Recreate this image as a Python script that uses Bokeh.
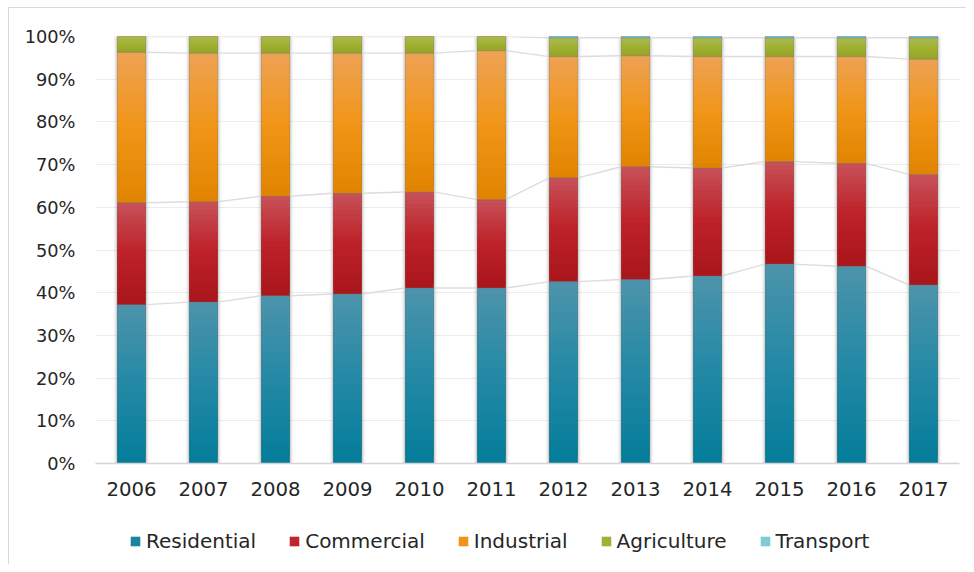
import numpy as np
from bokeh.plotting import figure
from bokeh.layouts import column
from bokeh.models import (ColumnDataSource, FixedTicker, Range1d, Legend, LegendItem)
from bokeh.embed import file_html
from bokeh.resources import INLINE

years = ["2006", "2007", "2008", "2009", "2010", "2011",
         "2012", "2013", "2014", "2015", "2016", "2017"]
residential = [37.2, 37.8, 39.3, 39.7, 41.1, 41.1, 42.6, 43.1, 43.9, 46.7, 46.2, 41.8]
commercial = [23.85, 23.5, 23.3, 23.6, 22.5, 20.7, 24.3, 26.4, 25.3, 24.0, 24.1, 25.9]
industrial = [35.25, 34.8, 33.5, 32.8, 32.5, 34.9, 28.4, 26.0, 26.1, 24.6, 25.0, 27.0]
agriculture = [3.7, 3.9, 3.9, 3.9, 3.9, 3.3, 4.4, 4.2, 4.4, 4.4, 4.4, 5.0]
transport = [0.0, 0.0, 0.0, 0.0, 0.0, 0.0, 0.3, 0.3, 0.3, 0.3, 0.3, 0.3]

series_names = ["Residential", "Commercial", "Industrial", "Agriculture", "Transport"]
series_values = [residential, commercial, industrial, agriculture, transport]
# gradient stops: top, middle, bottom
gradients = [
    ("#4d93ab", "#2389a5", "#037c9a"),
    ("#c75159", "#bd2127", "#a8161c"),
    ("#eda255", "#f19518", "#e08400"),
    ("#abb955", "#a0b132", "#94a427"),
    ("#8fd0d6", "#6fc0c8", "#5ab3bd"),
]
legend_colors = ["#1a85a2", "#c0272d", "#f0921c", "#a0b236", "#7ecbd2"]
y_ticks = [0, 10, 20, 30, 40, 50, 60, 70, 80, 90, 100]

BAR_W = 0.40
N_SLICES = 24


def hex2rgb(h):
    h = h.lstrip("#")
    return np.array([int(h[i:i + 2], 16) for i in (0, 2, 4)], dtype=float)


def grad_color(stops, t):
    # t=1 -> top, t=0 -> bottom
    top, mid, bot = (hex2rgb(s) for s in stops)
    if t >= 0.5:
        f = (t - 0.5) / 0.5
        c = mid + (top - mid) * f
    else:
        f = t / 0.5
        c = bot + (mid - bot) * f
    return "#%02x%02x%02x" % tuple(int(round(v)) for v in c)


xs = list(range(len(years)))

p = figure(width=957, height=500, output_backend="svg", toolbar_location=None,
           x_range=Range1d(-0.5, len(years) - 0.5), y_range=Range1d(0, 100),
           min_border_left=86, min_border_right=7, min_border_top=28, min_border_bottom=45,
           background_fill_color="white", border_fill_color="white")
p.outline_line_color = None

# grid
p.xgrid.visible = False
p.ygrid.ticker = FixedTicker(ticks=y_ticks)
p.ygrid.grid_line_color = "#ececec"
p.ygrid.grid_line_width = 1

# axes
p.yaxis.ticker = FixedTicker(ticks=y_ticks)
p.yaxis.major_label_overrides = {t: f"{t}%" for t in y_ticks}
p.yaxis.axis_line_color = None
p.yaxis.major_tick_line_color = None
p.yaxis.minor_tick_line_color = None
p.yaxis.major_label_standoff = 14
p.yaxis.major_label_text_font = "DejaVu Sans"
p.yaxis.major_label_text_font_size = "17.8px"
p.yaxis.major_label_text_color = "#262626"

p.xaxis.ticker = FixedTicker(ticks=xs)
p.xaxis.major_label_overrides = {i: y for i, y in enumerate(years)}
p.xaxis.axis_line_color = "#d4d4d4"
p.xaxis.axis_line_width = 1.5
p.xaxis.major_tick_line_color = None
p.xaxis.minor_tick_line_color = None
p.xaxis.major_label_standoff = 12
p.xaxis.major_label_text_font = "DejaVu Sans"
p.xaxis.major_label_text_font_size = "19.7px"
p.xaxis.major_label_text_color = "#262626"

# totals / cumulative
vals = np.array(series_values, dtype=float)
cum = np.cumsum(vals, axis=0)
totals = cum[-1]

# soft shadows behind bars
for extra, alpha in [(7, 0.06), (5, 0.08), (3, 0.12)]:
    p.vbar(x=xs, top=totals, bottom=0, width=BAR_W + extra / 72.0,
           fill_color="#808080", fill_alpha=alpha, line_color=None)

# connector lines between bars at each cumulative level
for s in range(4):
    x0 = [x + BAR_W / 2 for x in xs[:-1]]
    x1 = [x + 1 - BAR_W / 2 for x in xs[:-1]]
    p.segment(x0=x0, y0=list(cum[s][:-1]), x1=x1, y1=list(cum[s][1:]),
              line_color="#dcdcdc", line_width=1.4)

# gradient-filled segments (each slice spans to segment top; painted bottom->top)
for s, name in enumerate(series_names):
    base = cum[s] - vals[s]
    sx, sb, st, sc = [], [], [], []
    for i, x in enumerate(xs):
        v = vals[s][i]
        if v <= 0:
            continue
        for k in range(N_SLICES):
            sx.append(x)
            sb.append(base[i] + v * k / N_SLICES)
            st.append(cum[s][i])
            sc.append(grad_color(gradients[s], (k + 0.5) / N_SLICES))
    src = ColumnDataSource(dict(x=sx, bottom=sb, top=st, color=sc))
    p.vbar(x="x", bottom="bottom", top="top", width=BAR_W, fill_color="color",
           line_color=None, source=src)
    # thin edge outline per segment
    nz = [i for i in range(len(xs)) if vals[s][i] > 0]
    p.vbar(x=[xs[i] for i in nz], bottom=[base[i] for i in nz], top=[cum[s][i] for i in nz],
           width=BAR_W, fill_color=None, line_color="#7a7a7a", line_alpha=0.35, line_width=1)

# legend strip as a separate small figure under the chart
p2 = figure(width=957, height=56, output_backend="svg", toolbar_location=None,
            x_range=Range1d(0, 1), y_range=Range1d(0, 1),
            min_border_left=0, min_border_right=0, min_border_top=0, min_border_bottom=0,
            background_fill_color="white", border_fill_color="white")
p2.axis.visible = False
p2.grid.visible = False
p2.outline_line_color = None

items = []
for s, name in enumerate(series_names):
    # zero-height proxy renderer, used only for its legend swatch
    r = p2.vbar(x=[0.5], top=[0], bottom=[0], width=0.0, fill_color=legend_colors[s],
                line_color=None)
    items.append(LegendItem(label=name, renderers=[r]))

legend = Legend(items=items, orientation="horizontal", location=(34, 11),
                glyph_width=12, glyph_height=12, label_standoff=5, spacing=32,
                label_text_font="DejaVu Sans", label_text_font_size="20px",
                label_text_color="#262626", border_line_color=None,
                background_fill_alpha=0, padding=0, margin=0)
p2.add_layout(legend, "center")

layout = column(p, p2, spacing=0,
                styles={"border-top": "1px solid #d9d9d9", "border-left": "1px solid #d9d9d9",
                        "position": "relative", "left": "8px", "top": "7px"})

open("out.html", "w").write(file_html(layout, INLINE))
